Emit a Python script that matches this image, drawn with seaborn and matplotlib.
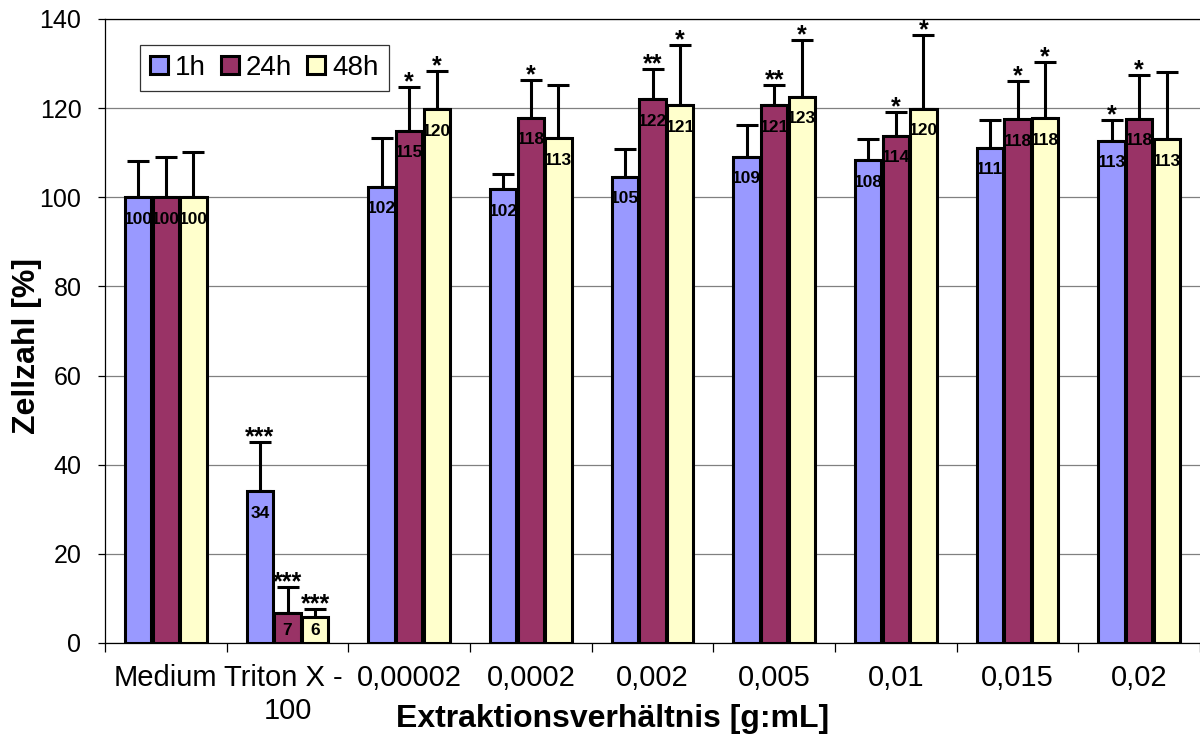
import numpy as np
import pandas as pd
import matplotlib
matplotlib.use("Agg")
import matplotlib.pyplot as plt
import seaborn as sns

# ---- data ----
categories = ["Medium", "Triton X - \n100", "0,00002", "0,0002", "0,002",
              "0,005", "0,01", "0,015", "0,02"]
times = ["1h", "24h", "48h"]
v1h = [100, 34, 102.4, 101.8, 104.6, 109.1, 108.3, 111.1, 112.6]
v24h = [100, 6.8, 114.9, 117.9, 122.0, 120.6, 113.8, 117.5, 117.6]
v48h = [100, 5.8, 119.7, 113.2, 120.6, 122.6, 119.8, 117.7, 113.0]
e1h = [8.1, 11.0, 11.0, 3.4, 6.2, 7.1, 4.8, 6.2, 4.7]
e24h = [9.0, 5.7, 9.8, 8.4, 6.7, 4.5, 5.4, 8.5, 9.8]
e48h = [10.2, 1.8, 8.6, 12.1, 13.6, 12.7, 16.5, 12.7, 15.1]
s1h = ["", "***", "", "", "", "", "", "", "*"]
s24h = ["", "***", "*", "*", "**", "**", "*", "*", "*"]
s48h = ["", "***", "*", "", "*", "*", "*", "*", ""]
colors = ["#9999FF", "#993366", "#FFFFCC"]

values = [v1h, v24h, v48h]
errors = [e1h, e24h, e48h]
stars = [s1h, s24h, s48h]

df = pd.DataFrame({
    "cat": categories * 3,
    "time": [t for t in times for _ in categories],
    "val": v1h + v24h + v48h,
})

sns.set_theme(style="white")
plt.rcParams["font.family"] = ["Liberation Sans", "DejaVu Sans"]
plt.rcParams.update({"text.color": "black", "axes.labelcolor": "black",
                     "xtick.color": "black", "ytick.color": "black"})

fig = plt.figure(figsize=(12, 7.35), dpi=100)
ax = fig.add_axes([105 / 1200, 1 - 643 / 735, 1095 / 1200, 624 / 735])

sns.barplot(data=df, x="cat", y="val", hue="time", order=categories,
            hue_order=times, palette=colors, saturation=1, edgecolor="black",
            linewidth=2.2, width=0.68, gap=0.04, errorbar=None, ax=ax,
            zorder=3)

for cont, vals, errs, sts in zip(ax.containers, values, errors, stars):
    for bar, v, e, s in zip(cont, vals, errs, sts):
        x = bar.get_x() + bar.get_width() / 2
        ax.errorbar(x, v, yerr=[[0], [e]], fmt="none", ecolor="black",
                    elinewidth=2.2, capsize=8, capthick=2.2, zorder=2)
        ly = max(v - 4.9, 2.7)
        ax.text(x, ly, f"{round(v):d}", ha="center", va="center",
                fontsize=12.5, fontweight="bold", color="black", zorder=5)
        if s:
            ax.text(x, v + e - 0.5, s, ha="center", va="baseline",
                    fontsize=18, fontweight="bold", color="black", zorder=5)

ax.set_ylim(0, 140)
ax.set_xlim(-0.5, 8.5)
ax.set_yticks(np.arange(0, 141, 20))
ax.yaxis.grid(True, color="#808080", linewidth=0.9)
ax.xaxis.grid(False)
ax.set_axisbelow(True)

for side in ["left", "bottom", "top"]:
    ax.spines[side].set_visible(True)
    ax.spines[side].set_color("black")
    ax.spines[side].set_linewidth(0.9)
ax.spines["right"].set_visible(False)

ax.tick_params(axis="y", which="major", direction="out", length=5, width=0.9,
               color="black", labelcolor="black", pad=12, labelsize=18,
               left=True)
ax.tick_params(axis="x", which="major", length=0, pad=15, labelsize=21,
               labelcolor="black", bottom=True)
ax.set_xticks(np.arange(-0.5, 9, 1), minor=True)
ax.tick_params(axis="x", which="minor", direction="out", length=6.5,
               width=0.9, color="black", bottom=True)
for lbl in ax.get_xticklabels():
    lbl.set_linespacing(1.25)

ax.set_xlabel("Extraktionsverhältnis [g:mL]", fontsize=23, fontweight="bold",
              color="black")
ax.xaxis.set_label_coords(0.4634, -(727 - 643) / 624)
ax.xaxis.label.set_verticalalignment("baseline")
ax.set_ylabel("Zellzahl [%]", fontsize=23, fontweight="bold", color="black")
ax.yaxis.set_label_coords(-0.0575, 0.476)

leg = ax.legend(loc="upper left", bbox_to_anchor=(0.032, 0.958),
                borderaxespad=0, ncol=3, fontsize=20, frameon=True,
                fancybox=False, edgecolor="black", handlelength=0.65,
                handleheight=0.65, handletextpad=0.25, columnspacing=0.55,
                borderpad=0.35)
leg.get_frame().set_linewidth(0.9)
for t in leg.get_texts():
    t.set_color("black")

fig.savefig("out.png", dpi=100)
